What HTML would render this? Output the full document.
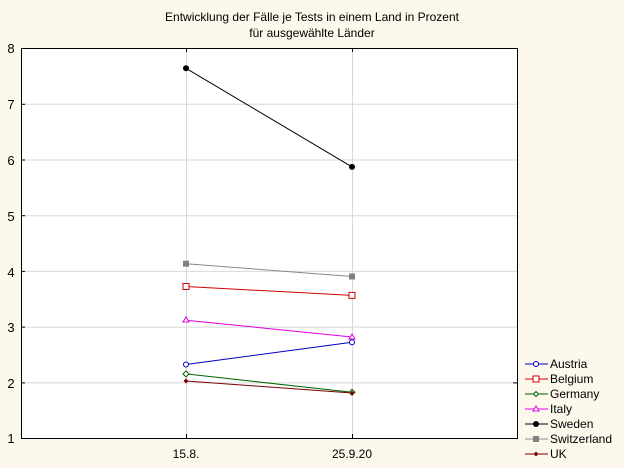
<!DOCTYPE html>
<html><head><style>body{margin:0;background:#fdf8ec}svg{display:block}</style></head><body>
<svg width="624" height="468" xmlns="http://www.w3.org/2000/svg" font-family="Liberation Sans, sans-serif">
<rect width="624" height="468" fill="#fdf8ec"/>
<text x="312" y="21" font-size="12" text-anchor="middle">Entwicklung der Fälle je Tests in einem Land in Prozent</text>
<text x="312" y="37" font-size="12" text-anchor="middle">für ausgewählte Länder</text>
<rect x="21" y="48" width="496" height="390" fill="#fff"/>
<g stroke="#d8d8d8" stroke-width="1">
<line x1="21" x2="517" y1="104.3" y2="104.3"/><line x1="21" x2="517" y1="160" y2="160"/><line x1="21" x2="517" y1="215.7" y2="215.7"/><line x1="21" x2="517" y1="271.4" y2="271.4"/><line x1="21" x2="517" y1="327.1" y2="327.1"/><line x1="21" x2="517" y1="382.9" y2="382.9"/>
<line x1="186.5" x2="186.5" y1="48" y2="438"/><line x1="352.5" x2="352.5" y1="48" y2="438"/>
</g>
<rect x="21.5" y="48.5" width="496" height="390" fill="none" stroke="#000"/>
<g stroke="#000"><line x1="21" x2="25" y1="104.3" y2="104.3"/><line x1="21" x2="25" y1="160" y2="160"/><line x1="21" x2="25" y1="215.7" y2="215.7"/><line x1="21" x2="25" y1="271.4" y2="271.4"/><line x1="21" x2="25" y1="327.1" y2="327.1"/><line x1="21" x2="25" y1="382.9" y2="382.9"/>
<line x1="186.5" x2="186.5" y1="48" y2="52"/><line x1="352.5" x2="352.5" y1="48" y2="52"/><line x1="186.5" x2="186.5" y1="434" y2="438"/><line x1="352.5" x2="352.5" y1="434" y2="438"/><line x1="513" x2="517" y1="382.9" y2="382.9"/></g>
<g font-size="13" text-anchor="middle">
<text x="11" y="53">8</text><text x="11" y="109">7</text><text x="11" y="165">6</text><text x="11" y="221">5</text><text x="11" y="277">4</text><text x="11" y="332">3</text><text x="11" y="388">2</text><text x="11" y="443">1</text>
</g>
<g font-size="12" text-anchor="middle"><text x="186" y="458">15.8.</text><text x="352" y="458">25.9.20</text></g>
<!-- series -->
<line x1="186" y1="373.9" x2="352" y2="392.3" stroke="#006400"/>
<line x1="186" y1="364.5" x2="352" y2="342.2" stroke="#0000c0"/>
<line x1="186" y1="320.2" x2="352" y2="337" stroke="#e000e0"/>
<line x1="186" y1="286.5" x2="352" y2="295.4" stroke="#d00000"/>
<line x1="186" y1="263.7" x2="352" y2="276.5" stroke="#888"/>
<line x1="186" y1="68.3" x2="352" y2="166.9" stroke="#000"/>
<line x1="186" y1="381" x2="352" y2="393" stroke="#7a0000"/>
<circle cx="186" cy="364.5" r="2.5" fill="#fff" stroke="#0000c0"/><circle cx="352" cy="342.2" r="2.5" fill="#fff" stroke="#0000c0"/>
<rect x="183" y="283.5" width="6" height="6" fill="#fff" stroke="#d00000"/><rect x="349" y="292.4" width="6" height="6" fill="#fff" stroke="#d00000"/>
<path d="M186 370.9l3 3-3 3-3-3z" fill="#fff" stroke="#006400"/><path d="M352 389.3l3 3-3 3-3-3z" fill="#fff" stroke="#006400"/>
<path d="M186 317l3 5h-6z" fill="#fff" stroke="#e000e0"/><path d="M352 334l3 5h-6z" fill="#fff" stroke="#e000e0"/>
<circle cx="186" cy="68.3" r="3" fill="#000"/><circle cx="352" cy="166.9" r="3" fill="#000"/>
<rect x="183" y="260.7" width="6" height="6" fill="#808080"/><rect x="349" y="273.5" width="6" height="6" fill="#808080"/>
<path d="M186 378.5l2.5 2.5-2.5 2.5-2.5-2.5z" fill="#7a0000"/><path d="M352 390.5l2.5 2.5-2.5 2.5-2.5-2.5z" fill="#7a0000"/>
<!-- legend -->
<g font-size="12">
<line x1="525" x2="548" y1="364" y2="364" stroke="#0000c0"/><circle cx="536" cy="364" r="2.5" fill="#fff" stroke="#0000c0"/><text x="550" y="368">Austria</text>
<line x1="525" x2="548" y1="379" y2="379" stroke="#d00000"/><rect x="533" y="376" width="6" height="6" fill="#fff" stroke="#d00000"/><text x="550" y="383">Belgium</text>
<line x1="525" x2="548" y1="394" y2="394" stroke="#006400"/><path d="M536 391.5l2.5 2.5-2.5 2.5-2.5-2.5z" fill="#fff" stroke="#006400"/><text x="550" y="398">Germany</text>
<line x1="525" x2="548" y1="409" y2="409" stroke="#e000e0"/><path d="M536 406l3 5h-6z" fill="#fff" stroke="#e000e0"/><text x="550" y="413">Italy</text>
<line x1="525" x2="548" y1="424" y2="424" stroke="#000"/><circle cx="536" cy="424" r="3" fill="#000"/><text x="550" y="428">Sweden</text>
<line x1="525" x2="548" y1="439" y2="439" stroke="#888"/><rect x="533" y="436" width="6" height="6" fill="#808080"/><text x="550" y="443">Switzerland</text>
<line x1="525" x2="548" y1="454" y2="454" stroke="#7a0000"/><path d="M536 451.5l2.5 2.5-2.5 2.5-2.5-2.5z" fill="#7a0000"/><text x="550" y="458">UK</text>
</g>
</svg>
</body></html>
